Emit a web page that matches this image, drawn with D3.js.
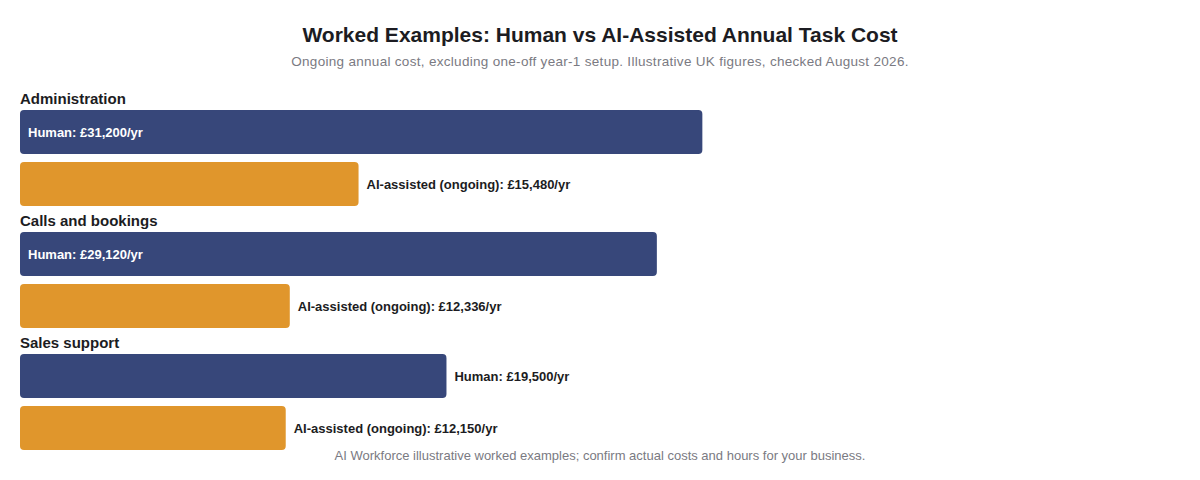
<!DOCTYPE html>
<html><head><meta charset="utf-8">
<script src="https://cdn.jsdelivr.net/npm/d3@7"></script>
<style>body{margin:0;background:#fff;font-family:"Liberation Sans",Arial,sans-serif}</style>
</head><body><div id="chart"></div>
<script>
const categories = ["Administration", "Calls and bookings", "Sales support"];
const humanCost = [31200, 29120, 19500];
const aiCost = [15480, 12336, 12150];
const seriesNames = ["Human", "AI-assisted (ongoing)"];
const colors = ["#37477a", "#e0962c"];

const width = 1200, height = 480;
const svg = d3.select("#chart").append("svg").attr("width", width).attr("height", height);

svg.append("text").attr("x", 600).attr("y", 42).attr("text-anchor", "middle")
  .attr("font-size", 21).attr("font-weight", "bold").attr("fill", "#1c1c22")
  .text("Worked Examples: Human vs AI-Assisted Annual Task Cost");
svg.append("text").attr("x", 600).attr("y", 66).attr("text-anchor", "middle")
  .attr("font-size", 13.5).attr("fill", "#7a7a82").attr("letter-spacing", 0.3)
  .text("Ongoing annual cost, excluding one-off year-1 setup. Illustrative UK figures, checked August 2026.");

const maxV = d3.max(humanCost);
const x = d3.scaleLinear().domain([0, maxV * 1.7]).range([20, 1180]);
const groupY = d3.scaleBand().domain(categories).range([88, 454]);
const fmt = v => "£" + d3.format(",")(v) + "/yr";

categories.forEach((c, i) => {
  const g = svg.append("g").attr("transform", `translate(0,${groupY(c)})`);
  g.append("text").attr("x", 20).attr("y", 16).attr("font-size", 15)
    .attr("font-weight", "bold").attr("fill", "#1c1c22").text(c);
  [humanCost[i], aiCost[i]].forEach((v, j) => {
    const y = 22 + j * 52;
    const w = x(v) - x(0);
    g.append("rect").attr("x", x(0)).attr("y", y).attr("width", w).attr("height", 44)
      .attr("rx", 4).attr("fill", colors[j]);
    const inside = v >= maxV * 0.9;
    g.append("text").attr("x", inside ? x(0) + 8 : x(v) + 8).attr("y", y + 27)
      .attr("font-size", 13).attr("font-weight", "bold")
      .attr("fill", inside ? "#fff" : "#1c1c22")
      .text(`${seriesNames[j]}: ${fmt(v)}`);
  });
});

svg.append("text").attr("x", 600).attr("y", 460).attr("text-anchor", "middle")
  .attr("font-size", 13).attr("fill", "#7a7a82")
  .text("AI Workforce illustrative worked examples; confirm actual costs and hours for your business.");
</script></body></html>
